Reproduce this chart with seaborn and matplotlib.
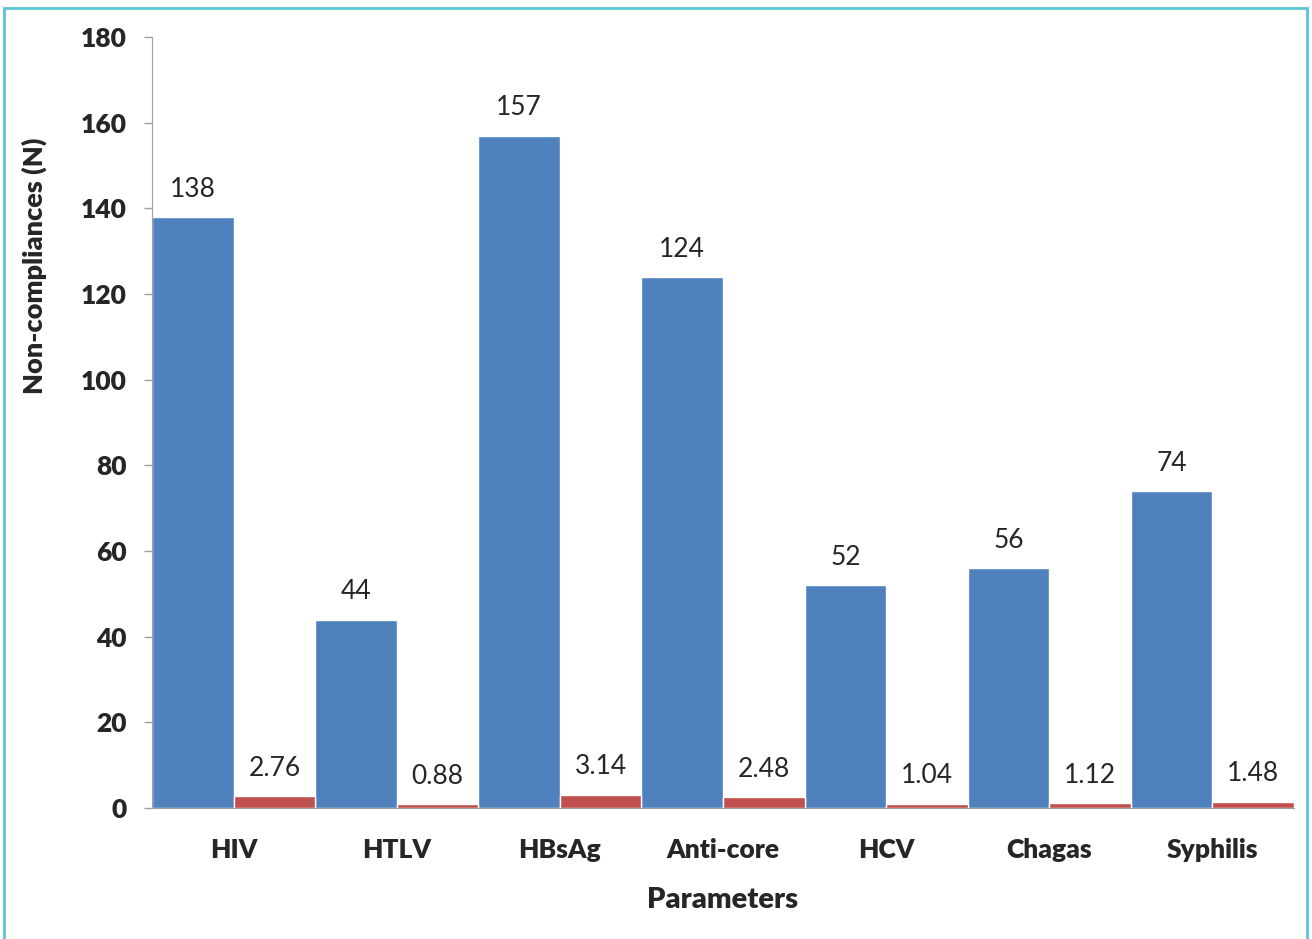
import matplotlib
matplotlib.use("Agg")
import matplotlib.pyplot as plt
import seaborn as sns
import pandas as pd
from matplotlib.patches import Rectangle

# Data
parameters = ["HIV", "HTLV", "HBsAg", "Anti-core", "HCV", "Chagas", "Syphilis"]
counts = [138, 44, 157, 124, 52, 56, 74]
percents = [2.76, 0.88, 3.14, 2.48, 1.04, 1.12, 1.48]
series_names = ["N", "%"]

df = pd.DataFrame({
    "Parameters": parameters * 2,
    "value": counts + percents,
    "series": [series_names[0]] * len(parameters) + [series_names[1]] * len(parameters),
})

sns.set_style("white")
plt.rcParams["font.family"] = ["Lato", "DejaVu Sans"]

fig = plt.figure(figsize=(13.12, 9.39), dpi=100)
ax = fig.add_axes([0.1159, 0.1395, 0.8704, 0.8211])

sns.barplot(
    data=df, x="Parameters", y="value", hue="series",
    palette=["#4f81bd", "#c0504d"], width=1.0, gap=0,
    saturation=1, legend=False, ax=ax
)

for cont, fmt in zip(ax.containers, ["%d", "%.2f"]):
    ax.bar_label(cont, fmt=fmt, padding=11, fontsize=19)

ax.set_ylim(0, 180)
ax.set_yticks(range(0, 181, 20))
ax.set_xlim(-0.5, len(parameters) - 0.5)

ax.set_xlabel("Parameters", fontsize=21, fontweight="heavy", labelpad=18)
ax.set_ylabel("Non-compliances (N)", fontsize=19.5, fontweight="heavy")
# the y title sits above the middle of the axis, as in the original
ax.yaxis.set_label_coords(-0.092, 0.703)

for lab in ax.get_yticklabels() + ax.get_xticklabels():
    lab.set_fontweight("heavy")
    lab.set_fontsize(19)

ax.tick_params(axis="y", left=True, length=6, width=1, color="#a0a0a0", pad=12)
ax.tick_params(axis="x", bottom=False, pad=18)

for side in ["top", "right"]:
    ax.spines[side].set_visible(False)
ax.spines["left"].set_color("#a0a0a0")
ax.spines["bottom"].set_color("#a0a0a0")

# light blue frame around the chart
fig.patches.append(Rectangle((4 / 1312, -0.02), 1303 / 1312, 1 - 8 / 939 + 0.02,
                             transform=fig.transFigure, fill=False,
                             edgecolor="#5bc4d6", linewidth=2))

fig.savefig("out.png", dpi=100)
